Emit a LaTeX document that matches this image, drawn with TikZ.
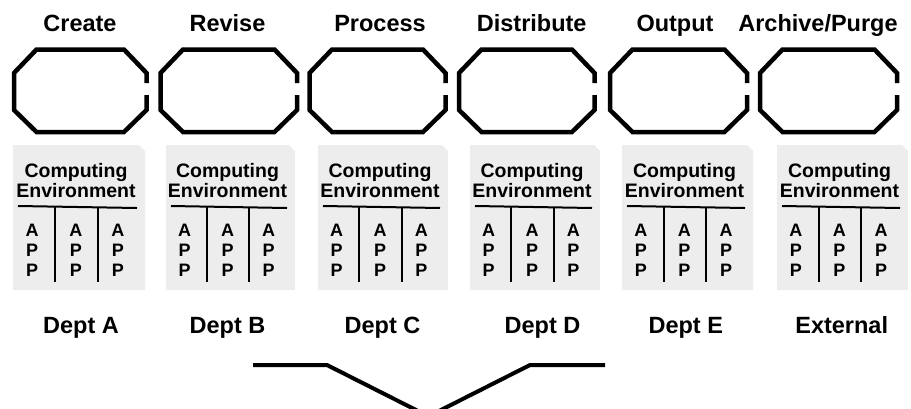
\documentclass[tikz,border=0pt]{standalone}
\usepackage{fontspec}
\setmainfont{Liberation Sans}
\begin{document}
\begin{tikzpicture}[x=1pt,y=-1pt,
  oct/.style={line width=4.5pt,line join=miter,line cap=butt},
  envbox/.style={fill=black!7,draw=none},
  title/.style={font=\bfseries\fontsize{23.5}{26}\selectfont,inner sep=0pt,anchor=base},
  dept/.style={font=\bfseries\fontsize{23.5}{26}\selectfont,inner sep=0pt,anchor=base},
  env/.style={font=\bfseries\fontsize{19.5}{20}\selectfont,inner sep=0pt,align=center},
  app/.style={font=\bfseries\fontsize{18}{20}\selectfont,inner sep=0pt,align=center},
  rule/.style={line width=2pt},
  chev/.style={line width=4pt,line join=miter}]
\useasboundingbox (0,0) rectangle (911,408);
\clip (0,0) rectangle (911,408);
% titles
\foreach \n/\x/\t in {1/80/Create,2/227.5/Revise,3/380/Process,4/531.7/Distribute,5/675/Output,6/818/{Archive/Purge}}
  \node[title] (t\n) at (\x,31) {\t};
% octagons
\foreach \n/\L/\R in {1/14/146.5,2/160.5/297,3/309.5/445.5,4/459/594.5,5/610/747,6/760/897}{
  \draw[oct] (\R,95) -- (\R,110) -- (\R-22.5,132) -- (\L+22.5,132) -- (\L,110)
    -- (\L,73) -- (\L+22.5,49.5) -- (\R-22.5,49.5) -- (\R,73) -- (\R,83);
  \coordinate (o\n) at ({(\L+\R)/2},91);
}
% computing environment boxes
\foreach \n/\L/\R in {1/13/145,2/166/295,3/318/448,4/470/600,5/622/753,6/777/908}{
  \path[envbox] (\L,145) -- (\R-6,145) -- (\R,151) -- (\R,290) -- (\L,290) -- cycle;
  \node[env] (e\n) at ({(\L+\R)/2-3},180.5) {Computing\\Environment};
  \draw[rule] (\L+5,206) -- (\R-8,208);
  \draw[rule] ({\L+0.318*(\R-\L)},207) -- ({\L+0.318*(\R-\L)},282);
  \draw[rule] ({\L+0.644*(\R-\L)},207.5) -- ({\L+0.644*(\R-\L)},282);
  \node[app] (a\n x) at ({\L+0.144*(\R-\L)},250.5) {A\\P\\P};
  \node[app] (a\n y) at ({\L+0.477*(\R-\L)},250.5) {A\\P\\P};
  \node[app] (a\n z) at ({\L+0.795*(\R-\L)},250.5) {A\\P\\P};
}
% departments
\foreach \n/\x/\t in {1/81/Dept A,2/227.5/Dept B,3/382.5/Dept C,4/542.5/Dept D,5/685.8/Dept E,6/841.7/External}
  \node[dept] (d\n) at (\x,333) {\t};
% chevron
\coordinate (c1) at (253,365);
\coordinate (c2) at (327,365);
\coordinate (c3) at (428.5,416.3);
\coordinate (c4) at (530,365);
\coordinate (c5) at (605,365);
\draw[chev] (c1) -- (c2) -- (c3) -- (c4) -- (c5);
\end{tikzpicture}
\end{document}
